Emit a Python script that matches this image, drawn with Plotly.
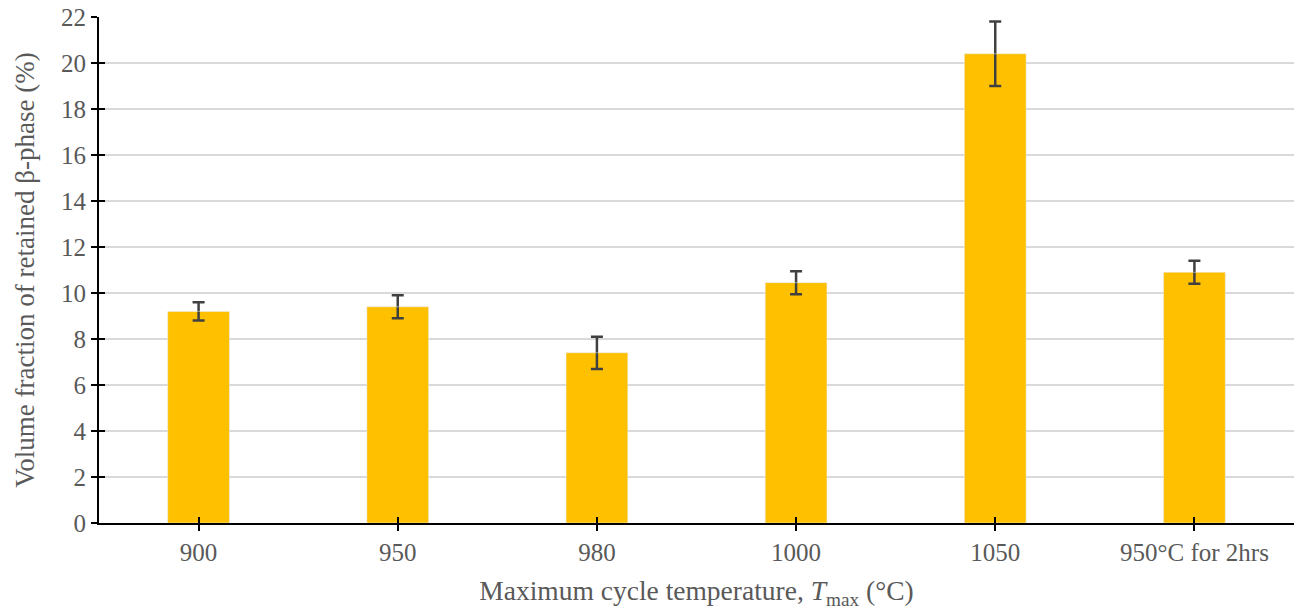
import plotly.graph_objects as go

categories = ["900", "950", "980", "1000", "1050", "950°C for 2hrs"]
volume_fraction = [9.2, 9.4, 7.4, 10.45, 20.4, 10.9]
error = [0.4, 0.5, 0.7, 0.5, 1.4, 0.5]
y_ticks = [0, 2, 4, 6, 8, 10, 12, 14, 16, 18, 20, 22]

font_family = "Liberation Serif, Times New Roman, serif"
label_color = "#595959"

fig = go.Figure()
fig.add_trace(go.Bar(
    x=categories,
    y=volume_fraction,
    marker=dict(color="#FFC000", line=dict(width=0)),
    error_y=dict(type="data", array=error, visible=True,
                 color="#404040", thickness=2.5, width=6),
    width=0.31,
    hoverinfo="x+y",
))
# invisible helper trace so the overlaid axes (inner half of the cross ticks) are drawn
fig.add_trace(go.Bar(
    x=categories, y=volume_fraction, xaxis="x2", yaxis="y2",
    marker=dict(color="rgba(0,0,0,0)"), width=0.31, hoverinfo="skip",
))

fig.update_layout(
    width=1305, height=610,
    margin=dict(l=99, r=11, t=17, b=87, autoexpand=False),
    paper_bgcolor="white", plot_bgcolor="white",
    font=dict(family=font_family, color=label_color, size=25),
    showlegend=False,
    barmode="overlay",
    xaxis=dict(
        type="category", automargin=False,
        showline=True, linecolor="black", linewidth=2,
        ticks="outside", ticklen=6, tickwidth=2, tickcolor="black",
        tickfont=dict(size=25, color=label_color),
        title=dict(text="Maximum cycle temperature, <i>T</i><sub>max</sub> (°C)",
                   font=dict(size=27.5, color=label_color), standoff=22),
        showgrid=False,
    ),
    yaxis=dict(
        range=[0, 22], tickvals=y_ticks, automargin=False,
        showline=True, linecolor="black", linewidth=2,
        ticks="outside", ticklen=6, tickwidth=2, tickcolor="black",
        tickfont=dict(size=25, color=label_color),
        showgrid=True, gridcolor="#D9D9D9", gridwidth=1.5,
        zeroline=False,
        title=dict(text="Volume fraction of retained β-phase (%)",
                   font=dict(size=27, color=label_color), standoff=19),
    ),
    xaxis2=dict(
        type="category", overlaying="x", matches="x", automargin=False,
        ticks="inside", ticklen=6, tickwidth=2, tickcolor="black",
        showticklabels=False, showgrid=False, showline=False,
    ),
    yaxis2=dict(
        overlaying="y", matches="y", tickvals=y_ticks, automargin=False,
        ticks="inside", ticklen=6, tickwidth=2, tickcolor="black",
        showticklabels=False, showgrid=False, showline=False, zeroline=False,
    ),
)

# remove the default 8px page margin so the figure sits at the window origin
fig.write_html("out.html", config={"displayModeBar": False},
               post_script="document.body.style.margin='0';")
